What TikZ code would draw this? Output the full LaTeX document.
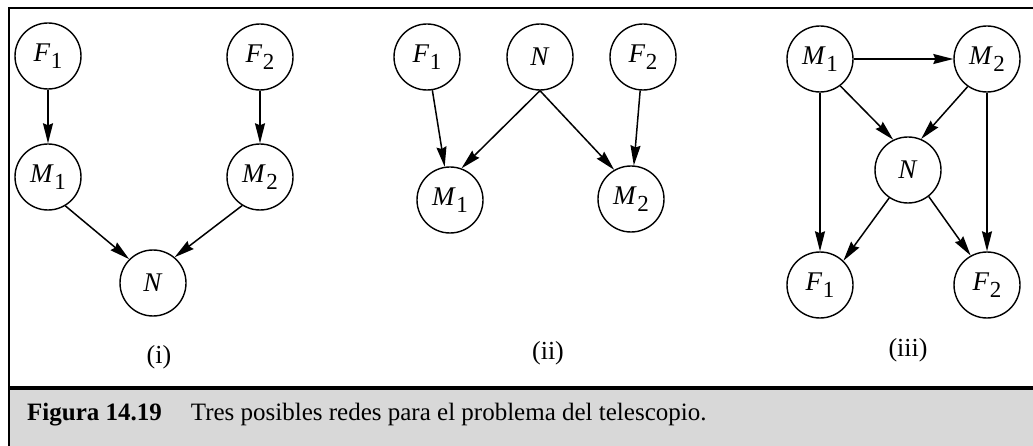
\documentclass[tikz,border=0pt]{standalone}
\usepackage{fontspec}
\setmainfont{Liberation Serif}
\usetikzlibrary{arrows.meta}
\definecolor{capgray}{RGB}{216,216,216}
\newcommand\nodesub[2]{\textit{#1}\kern0.5pt\raisebox{-7pt}{\fontsize{23}{23}\selectfont #2}}
\begin{document}
\begin{tikzpicture}[x=1pt,y=-1pt,
  vnode/.style={circle,draw,line width=1.4pt,minimum size=66pt,inner sep=0pt,font=\fontsize{27}{27}\selectfont},
  edge/.style={line width=1.5pt,-{Stealth[length=20pt,width=10pt,inset=2pt]}},
  plabel/.style={font=\fontsize{26}{26}\selectfont},
  frameline/.style={line width=1.5pt}]
\useasboundingbox (0,0) rectangle (1033,446);
% frame and caption
\fill[capgray] (9,390) rectangle (1033,446);
\draw[line width=4pt] (9,387.5) -- (1033,387.5);
\draw[frameline] (9,446) -- (9,8) -- (1033,8);
\node[anchor=base west,inner sep=0pt,font=\fontsize{25}{25}\selectfont] (cap) at (27,420)
  {\textbf{Figura 14.19}\hspace{29pt}Tres posibles redes para el problema del telescopio.};
% panel (i)
\node[vnode] (aF1) at (48,56) {\nodesub{F}{1}};
\node[vnode] (aF2) at (260,57) {\nodesub{F}{2}};
\node[vnode] (aM1) at (48,177) {\nodesub{M}{1}};
\node[vnode] (aM2) at (260,177) {\nodesub{M}{2}};
\node[vnode] (aN) at (153,283) {\textit{N}};
\node[plabel] (la) at (159,357) {(i)};
\draw[edge] (aF1) -- (aM1);
\draw[edge] (aF2) -- (aM2);
\draw[edge] (aM1.-59) -- (aN.135);
\draw[edge] (aM2.238) -- (aN.50);
% panel (ii)
\node[vnode] (bF1) at (427,57) {\nodesub{F}{1}};
\node[vnode] (bN) at (540,57) {\textit{N}};
\node[vnode] (bF2) at (643,57) {\nodesub{F}{2}};
\node[vnode] (bM1) at (450,200) {\nodesub{M}{1}};
\node[vnode] (bM2) at (631,199) {\nodesub{M}{2}};
\node[plabel] (lb) at (548,353) {(ii)};
\draw[edge] (bF1) -- (bM1);
\draw[edge] (bF2) -- (bM2);
\draw[edge] (bN.south) -- (bM1.70);
\draw[edge] (bN.south) -- (bM2.120);
% panel (iii)
\node[vnode] (cM1) at (820,59) {\nodesub{M}{1}};
\node[vnode] (cM2) at (987,59) {\nodesub{M}{2}};
\node[vnode] (cN) at (908,170) {\textit{N}};
\node[vnode] (cF1) at (820,285) {\nodesub{F}{1}};
\node[vnode] (cF2) at (987,285) {\nodesub{F}{2}};
\node[plabel] (lc) at (908,350) {(iii)};
\draw[edge] (cM1) -- (cM2);
\draw[edge] (cM1.-53) -- (cN.116);
\draw[edge] (cM2.235) -- (cN.67);
\draw[edge] (cN.236) -- (cF1.46);
\draw[edge] (cN.-52) -- (cF2.119);
\draw[edge] (cM1) -- (cF1);
\draw[edge] (cM2) -- (cF2);
\end{tikzpicture}
\end{document}
